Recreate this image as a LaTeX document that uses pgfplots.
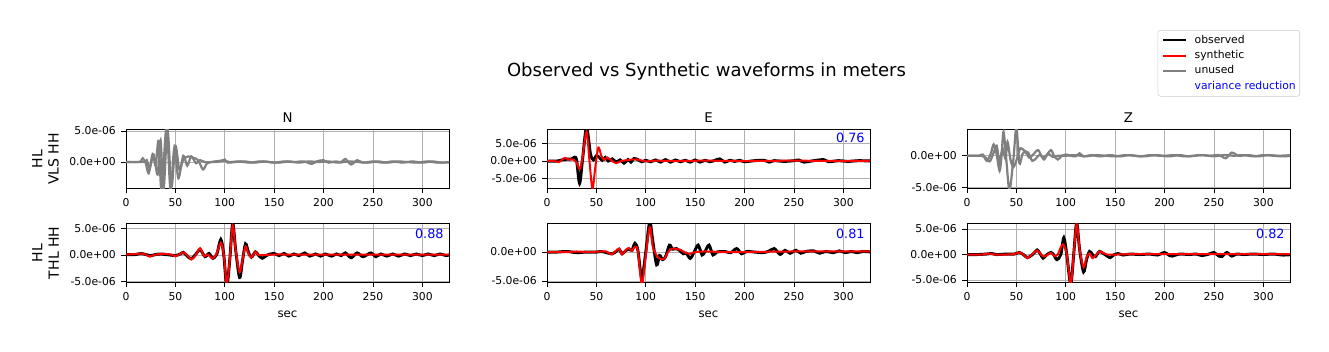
\documentclass[border=0pt]{standalone}
\usepackage{pgfplots}
\pgfplotsset{compat=1.18}
\usepackage{fontspec}
\setmainfont{DejaVu Sans}

% data in units of 1e-6 m
\pgfplotstableread{
x y
0 0
12 0
15 0.1
17 0.6
20 -0.2
23 -1.8
27 1.3
30 -0.5
33 3.4
36 -4.6
41 5.6
45 -4.4
49 2.4
53 -2.6
58 1.0
62 -0.6
66 0.9
71 -0.2
75 0.3
80 0
90 0
95 0.1
100 0.4
103 -0.1
110 0
120 0.1
130 -0.1
140 0.1
150 -0.1
160 0.1
170 0
180 0.1
188 -0.3
193 0.1
200 0.3
205 -0.1
212 0.1
218 0
222 0.5
228 -0.4
234 0.3
240 -0.1
250 0.1
260 -0.1
270 0.1
280 -0.1
290 0.1
300 -0.1
310 0.1
320 -0.1
329 0
}\NtopA
\pgfplotstableread{
x y
0 0
18 0
21 0.3
24 -1.0
28 1.2
32 -2.0
35 3.5
38 -4.5
42 5.3
46 -4.0
50 2.6
54 -1.2
58 0.4
63 0.9
68 0.7
73 0.3
78 -1.2
82 -0.2
86 0
95 0.2
100 0.2
105 0
115 0.1
125 -0.1
135 0.1
145 0
155 -0.1
165 0.1
175 -0.1
185 0.1
195 0
205 0.1
215 -0.1
225 0.1
235 0
245 -0.1
255 0.1
265 -0.1
275 0.1
285 0
295 -0.1
305 0.1
315 -0.1
329 0
}\NtopB
\pgfplotstableread{
x y
0 0
10 0
15 0.3
20 0.5
25 0.6
28 1.1
30 0.2
33 -6.3
36 0.5
40 9.5
44 2.0
47 0.3
50 1.5
53 1.0
56 0.2
59 1.0
62 0
66 0.6
70 -0.3
74 0.3
78 -0.6
82 0.4
85 -0.3
88 0.7
92 0.4
96 -0.2
100 0.2
105 -0.2
110 0.3
115 -0.3
120 0.4
125 -0.3
130 0.3
135 -0.2
140 0.2
145 -0.3
150 0.3
155 -0.3
160 0.2
165 -0.2
170 0.2
175 0.6
180 -0.3
185 0.2
190 -0.1
195 0.2
200 -0.2
210 0.1
220 0.2
225 -0.3
230 0.1
240 -0.1
250 0.1
255 0.3
260 -0.3
270 0.1
280 0.4
285 -0.2
295 0.1
305 -0.1
315 0.1
329 0
}\EtopObs
\pgfplotstableread{
x y
0 0
8 0
12 -0.3
18 0.9
22 0.4
26 0.5
30 -0.5
33 -2.3
36 1.0
40 8.3
43 0
46 -7.8
49 -1.5
52 3.8
55 1.5
58 0.3
61 1.0
65 0.2
70 -0.6
75 0
80 0.2
85 0.4
90 0.5
95 0.2
100 -0.1
110 0.1
130 0
160 0.1
200 0
250 0.1
300 0
329 0.1
}\EtopSyn
\pgfplotstableread{
x y
0 0
12 0
16 0.2
20 -0.8
24 0.3
27 1.8
30 0.2
33 -2.4
35 0
37 3.8
40 -1.0
43 -5.5
47 -0.5
50 4.5
53 -1.2
56 0.2
59 0.6
63 -0.3
67 0.2
72 0.9
76 -0.2
80 0
85 0.9
88 0
92 -0.6
96 0
100 0.2
105 0
110 -0.1
114 0.4
118 -0.1
125 0.1
135 -0.1
145 0.1
155 -0.1
165 0.1
175 -0.1
185 0.1
195 0
205 -0.1
215 0.1
225 -0.1
235 0.1
245 0
255 0.1
262 -0.4
268 0.5
275 0
285 0.1
295 -0.1
305 0.1
315 0
329 0.1
}\ZtopA
\pgfplotstableread{
x y
0 0
15 0
19 -0.3
23 -0.9
27 0.5
30 1.6
33 -1.0
36 1.2
39 -0.5
41 2.2
44 -0.6
47 -1.8
51 -0.3
54 1.2
58 0.8
62 0.5
66 -0.8
70 -0.4
74 0.2
78 -0.6
82 0.3
87 -0.2
92 0
100 0
110 0.1
120 -0.1
130 0.1
140 0
150 -0.1
160 0.1
170 0
180 -0.1
190 0.1
200 0
210 0.1
220 -0.1
230 0
240 0.1
250 -0.1
260 0.1
270 0
280 0.1
290 -0.1
300 0.1
310 0
320 -0.1
329 0
}\ZtopB
\pgfplotstableread{
x y
0 0.1
10 0.1
15 0.3
20 0.1
25 -0.1
30 0.1
35 0.2
40 0.1
45 0
50 -0.1
55 0.2
58 0.5
62 -0.2
66 -0.7
70 0
75 1.0
80 -0.3
84 0.3
88 -0.6
92 0.2
96 2.9
99 0
102 -5.8
105 -1
108 5.9
111 1
115 -4.2
118 -1
121 2.1
124 0.5
127 -0.4
131 0.6
134 0
138 -0.6
142 -0.1
146 0.2
150 0.3
155 -0.1
160 0.3
165 -0.2
170 0.2
175 -0.1
181 0.4
186 -0.2
192 0.2
197 -0.2
202 0.2
208 -0.2
213 0.2
218 -0.1
222 0.4
228 -0.5
234 0.4
240 -0.3
248 0.4
253 -0.3
258 0.2
264 -0.2
270 0.2
276 -0.2
282 0.2
288 -0.1
294 0.2
300 -0.1
306 0.2
312 -0.1
318 0.2
324 -0.1
329 0.1
}\NbotObs
\pgfplotstableread{
x y
0 0.1
10 0.2
15 0.3
20 0.1
24 -0.3
28 0
35 0.2
40 0.2
45 0.1
50 -0.2
54 0.1
58 0.5
62 0
66 -0.8
70 -0.2
75 1.3
79 -0.2
83 0.1
87 -0.6
91 0
96 2.3
99 0
102 -5.3
105 -1
108 5.6
111 1
115 -3.2
118 -0.8
121 1.6
124 0.2
127 -0.4
131 0.6
134 0
140 0
150 0.1
170 0.1
200 0.1
250 0.1
329 0.1
}\NbotSyn
\pgfplotstableread{
x y
0 0
10 0
20 0.1
30 -0.1
40 0
50 0
55 0.1
60 -0.1
66 -0.3
70 0.1
73 0.5
76 -0.3
80 0.3
83 0.5
86 0.3
89 1.5
92 0.3
96 -4.5
100 0
104 5.2
107 2
111 -2.2
114 -0.6
117 -1.3
120 -0.8
124 1.2
127 0.5
131 0.6
134 0.3
138 -0.3
141 -0.2
145 -1.1
149 0
153 1.2
157 -0.5
160 0.1
164 1.2
168 -0.5
172 0
180 0.1
186 -0.1
192 0.6
197 -0.3
202 0.1
210 0
218 -0.1
224 0.1
230 0.6
236 -0.4
241 0.3
246 -0.2
252 0.3
257 -0.2
262 0.1
270 0.2
276 -0.2
282 0.1
290 -0.1
296 0.2
302 -0.1
308 0.1
314 -0.1
320 0.1
329 0
}\EbotObs
\pgfplotstableread{
x y
0 0
20 0
30 0.1
40 0
55 0.1
60 0.1
65 -0.4
69 0.1
73 0.6
76 -0.4
80 0.4
83 0.7
86 0.2
89 0.9
92 0.2
96 -5.6
100 -0.5
104 4.3
107 1.0
111 -0.6
115 -1.2
119 -1.1
123 0.1
127 0.6
131 0.5
135 0.4
140 -0.1
145 -0.3
150 0
160 0.1
180 0
200 0
250 0.1
329 0.1
}\EbotSyn
\pgfplotstableread{
x y
0 0
10 0
20 0.1
25 0.2
30 0
40 0.1
48 0.1
53 0.4
57 0
61 -0.6
65 -0.2
68 0.3
71 0.9
74 0.2
77 -0.7
81 0
85 0.4
88 -0.1
91 -1.0
95 0
98 3.3
101 0
105 -5.8
108 0
111 6.2
114 1
118 -3.4
121 -1
124 0.6
127 0
130 -0.4
134 0.6
138 0.2
142 -0.3
145 -0.6
149 0
153 0.2
158 -0.1
165 0.1
175 0
185 0.1
193 -0.1
200 0.4
205 -0.2
208 -0.3
215 0.1
225 0
232 0.1
238 -0.2
245 0.1
250 0.4
255 -0.3
258 -0.4
263 0.4
268 -0.3
273 0.1
280 0
290 0.1
300 0
310 0.1
320 -0.1
329 0
}\ZbotObs
\pgfplotstableread{
x y
0 0
15 0
22 0.2
28 0
40 0
48 0.1
53 0.4
57 0
61 -0.7
65 -0.1
71 0.8
75 0
78 -0.4
82 0
85 0.3
89 -0.3
92 0.1
97 2.0
101 0
105 -5.8
108 0
111 6.0
114 1
118 -2.5
121 -0.5
124 0.2
127 -0.7
130 -0.2
134 0.6
138 0.3
142 0
150 0
170 0.1
200 0.1
250 0.1
329 0.1
}\ZbotSyn

\pgfplotsset{
  wave/.style={
    scale only axis, width=242.25pt, height=44.25pt,
    anchor=north west,
    xmin=0, xmax=327,
    xtick={0,50,100,150,200,250,300},
    tick pos=left,
    grid=major,
    grid style={color=black!31, line width=0.6pt},
    tick align=outside, major tick length=3.7pt,
    tick style={black, line width=0.6pt},
    axis line style={line width=0.7pt},
    ticklabel style={font=\fontsize{8.1}{9.5}\selectfont},
    /pgf/number format/assume math mode=true,
    xticklabel style={inner sep=0pt, yshift=-3.7pt},
    yticklabel style={inner sep=0pt, xshift=-3.7pt},
    title style={font=\fontsize{10}{12}\selectfont, at={(axis description cs:0.5,1)}, anchor=south, inner sep=0pt, yshift=-1pt},
    ylabel style={font=\fontsize{10.5}{12.3}\selectfont, align=center, at={(axis description cs:-0.207,0.5)}, anchor=south, inner sep=0pt},
    xlabel style={font=\fontsize{8.8}{10}\selectfont, at={(axis description cs:0.5,0)}, anchor=north, inner sep=0pt, yshift=-21pt},
  },
  obs/.style={black, line width=2.2pt, smooth, tension=0.5},
  syn/.style={red, line width=1.5pt, smooth, tension=0.5},
  unu/.style={gray, line width=1.65pt, smooth, tension=0.5},
}
\tikzset{vr/.style={anchor=base east, text=blue, inner sep=0pt, font=\fontsize{9.6}{11}\selectfont}}

\begin{document}
\begin{tikzpicture}
\useasboundingbox (0,0) rectangle (996.75pt,-263.25pt);
\node[font=\fontsize{13.5}{16}\selectfont] at (529.9pt,-54pt) {Observed vs Synthetic waveforms in meters};

% ---- top row ----
\begin{axis}[wave, at={(94.5pt,-97pt)}, title={N}, ylabel={HL\\VLS HH},
  ymin=-4.24, ymax=5.27, ytick={0,5}, yticklabels={0.0e+00,5.0e-06}]
\addplot[unu] table[x=x,y=y] {\NtopA};
\addplot[unu] table[x=x,y=y] {\NtopB};
\end{axis}

\begin{axis}[wave, at={(410.25pt,-97pt)}, title={E},
  ymin=-7.71, ymax=8.95, ytick={-5,0,5}, yticklabels={-5.0e-06,0.0e+00,5.0e-06}]
\addplot[obs] table[x=x,y=y] {\EtopObs};
\addplot[syn] table[x=x,y=y] {\EtopSyn};
\node[vr] at (rel axis cs:0.984,0.773) {0.76};
\end{axis}

\begin{axis}[wave, at={(725.25pt,-97pt)}, title={Z},
  ymin=-5.16, ymax=4.18, ytick={-5,0}, yticklabels={-5.0e-06,0.0e+00},
  legend cell align=left,
  legend style={at={(axis description cs:1.031,2.683)}, anchor=north east,
    draw=black!20, rounded corners=2pt, font=\fontsize{8.1}{9.7}\selectfont,
    inner xsep=3pt, inner ysep=3.5pt, row sep=3.5pt, column sep=6pt,
    nodes={inner sep=0pt, text height=6.2pt, text depth=1.8pt}}]
\addplot[unu, forget plot] table[x=x,y=y] {\ZtopA};
\addplot[unu, forget plot] table[x=x,y=y] {\ZtopB};
\addlegendimage{black, line width=1.5pt}
\addlegendentry{observed}
\addlegendimage{red, line width=1.5pt}
\addlegendentry{synthetic}
\addlegendimage{gray, line width=1.5pt}
\addlegendentry{unused}
\addlegendimage{empty legend}
\addlegendentry{\textcolor{blue}{variance reduction}}
\end{axis}

% ---- bottom row ----
\begin{axis}[wave, at={(94.5pt,-167.5pt)}, ylabel={HL\\THL HH}, xlabel={sec},
  ymin=-5.11, ymax=5.94, ytick={-5,0,5}, yticklabels={-5.0e-06,0.0e+00,5.0e-06}]
\addplot[obs] table[x=x,y=y] {\NbotObs};
\addplot[syn] table[x=x,y=y] {\NbotSyn};
\node[vr] at (rel axis cs:0.984,0.746) {0.88};
\end{axis}

\begin{axis}[wave, at={(410.25pt,-167.5pt)}, xlabel={sec},
  ymin=-5.22, ymax=4.95, ytick={-5,0}, yticklabels={-5.0e-06,0.0e+00}]
\addplot[obs] table[x=x,y=y] {\EbotObs};
\addplot[syn] table[x=x,y=y] {\EbotSyn};
\node[vr] at (rel axis cs:0.984,0.746) {0.81};
\end{axis}

\begin{axis}[wave, at={(725.25pt,-167.5pt)}, xlabel={sec},
  ymin=-5.45, ymax=6.12, ytick={-5,0,5}, yticklabels={-5.0e-06,0.0e+00,5.0e-06}]
\addplot[obs] table[x=x,y=y] {\ZbotObs};
\addplot[syn] table[x=x,y=y] {\ZbotSyn};
\node[vr] at (rel axis cs:0.984,0.746) {0.82};
\end{axis}
\end{tikzpicture}
\end{document}
